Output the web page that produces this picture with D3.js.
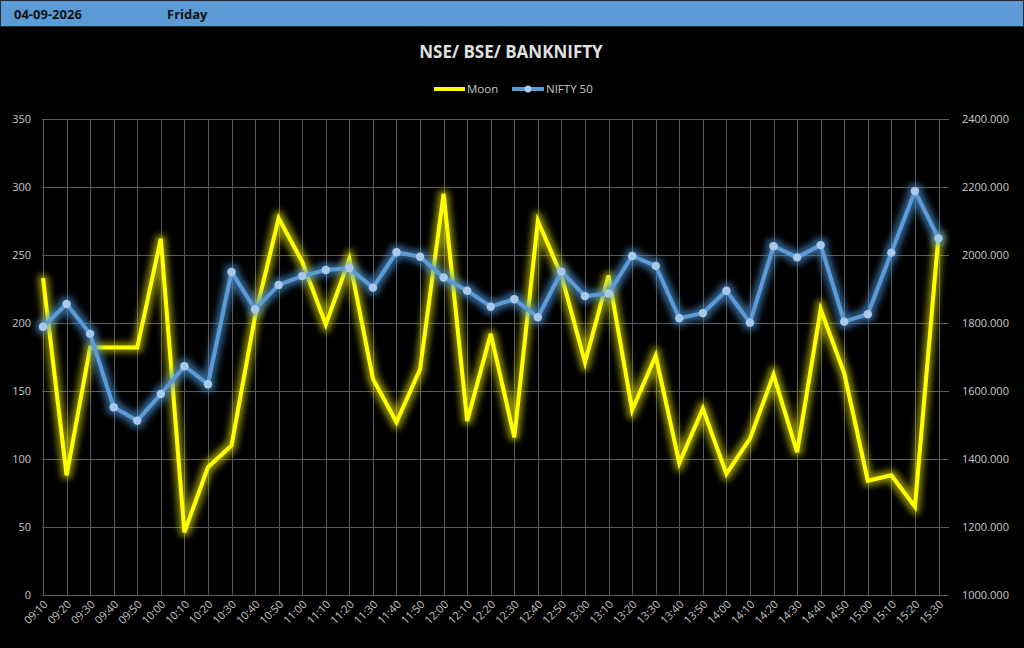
<!DOCTYPE html>
<html>
<head>
<meta charset="utf-8">
<script src="https://cdn.jsdelivr.net/npm/d3@7"></script>
<style>
  body { margin: 0; background: #000; }
  svg { display: block; }
</style>
</head>
<body>
<div id="chart"></div>
<script>
// DATA

const times = ["09:10","09:20","09:30","09:40","09:50","10:00","10:10","10:20","10:30","10:40",
  "10:50","11:00","11:10","11:20","11:30","11:40","11:50","12:00","12:10","12:20",
  "12:30","12:40","12:50","13:00","13:10","13:20","13:30","13:40","13:50","14:00",
  "14:10","14:20","14:30","14:40","14:50","15:00","15:10","15:20","15:30"]

const moon = [233, 88, 182, 182, 182, 262, 46, 94, 110, 205,
  277, 245, 199, 247, 159, 127, 166, 295, 128, 192,
  116, 275, 235, 171, 235, 136, 176, 97, 137, 89,
  115, 162, 105, 210, 163, 84, 88, 65, 264]

const nifty = [1789, 1856, 1768, 1552, 1513, 1591, 1673, 1620, 1950, 1840,
  1912, 1938, 1956, 1961, 1904, 2008, 1995, 1934, 1895, 1848,
  1870, 1817, 1951, 1879, 1887, 1997, 1968, 1814, 1829, 1895,
  1801, 2026, 1993, 2029, 1804, 1826, 2007, 2188, 2049]

const leftTicks = [0, 50, 100, 150, 200, 250, 300, 350]
const rightTicks = [1000, 1200, 1400, 1600, 1800, 2000, 2200, 2400]

const dateLabel = "04-09-2026"
const dayLabel = "Friday"
const title = "NSE/ BSE/ BANKNIFTY"

// CONSTANTS

const width = 1024
const height = 648
const plot = { left: 42, right: 949, top: 119, bottom: 595 }
const font = "'Open Sans', 'Noto Sans', sans-serif"
const yellow = "#FFFF00"
const blue = "#5B9BD5"
const gridColor = "#5a5a5a"
const textColor = "#c8c8c8"

const svg = d3.select("#chart").append("svg").attr("width", width).attr("height", height)
  .style("font-family", font)

// glow filters
const defs = svg.append("defs")
function glow(id, color, dev, op) {
  const f = defs.append("filter").attr("id", id)
    .attr("x", "-20%").attr("y", "-20%").attr("width", "140%").attr("height", "140%")
  f.append("feMorphology").attr("in", "SourceAlpha").attr("operator", "dilate").attr("radius", 2.5).attr("result", "d")
  f.append("feGaussianBlur").attr("in", "d").attr("stdDeviation", dev).attr("result", "b")
  f.append("feFlood").attr("flood-color", color).attr("flood-opacity", op)
  f.append("feComposite").attr("in2", "b").attr("operator", "in").attr("result", "g")
  const m = f.append("feMerge")
  m.append("feMergeNode").attr("in", "g")
  m.append("feMergeNode").attr("in", "SourceGraphic")
}
glow("glowY", "#e0e000", 3.2, 0.6)
glow("glowB", "#4a90d0", 3.2, 0.65)

svg.append("rect").attr("width", width).attr("height", height).attr("fill", "#000")

// HEADER

svg.append("rect").attr("x", 0.5).attr("y", 0.5).attr("width", width - 1).attr("height", 26)
  .attr("fill", blue).attr("stroke", "#2b2b2b")
svg.append("text").attr("x", 14).attr("y", 19).text(dateLabel)
  .attr("font-size", 13).attr("font-weight", "bold").attr("fill", "#111")
svg.append("text").attr("x", 167).attr("y", 19).text(dayLabel)
  .attr("font-size", 13).attr("font-weight", "bold").attr("fill", "#111")

svg.append("text").attr("x", 511).attr("y", 58).attr("text-anchor", "middle").text(title)
  .attr("font-size", 17).attr("font-weight", "bold").attr("fill", "#e0e0e0")

// SCALES

const x = d3.scalePoint().domain(times).range([43, 938.5])
const yL = d3.scaleLinear().domain([0, 350]).range([plot.bottom, plot.top])
const yR = d3.scaleLinear().domain([1000, 2400]).range([plot.bottom, plot.top])

// GRID

const grid = svg.append("g")
grid.selectAll(".hg").data(leftTicks).join("line")
  .attr("x1", plot.left).attr("x2", plot.right)
  .attr("y1", d => Math.round(yL(d)) + 0.5).attr("y2", d => Math.round(yL(d)) + 0.5)
  .attr("stroke", gridColor)
grid.selectAll(".vg").data(times).join("line")
  .attr("x1", d => Math.round(x(d)) + 0.5).attr("x2", d => Math.round(x(d)) + 0.5)
  .attr("y1", plot.top).attr("y2", plot.bottom)
  .attr("stroke", gridColor)

// AXES

const leftAxis = svg.append("g").attr("transform", `translate(${plot.left}, 0)`)
  .call(d3.axisLeft(yL).tickValues(leftTicks).tickSize(0).tickPadding(11))
const rightAxis = svg.append("g").attr("transform", `translate(${plot.right}, 0)`)
  .call(d3.axisRight(yR).tickValues(rightTicks).tickFormat(d3.format(".3f")).tickSize(0).tickPadding(13))
const bottomAxis = svg.append("g").attr("transform", `translate(0, ${plot.bottom})`)
  .call(d3.axisBottom(x).tickSize(0))

;[leftAxis, rightAxis, bottomAxis].forEach(a => {
  a.select(".domain").remove()
  a.selectAll("text").attr("fill", textColor).attr("font-size", 11).attr("font-family", font)
})

bottomAxis.selectAll("text")
  .attr("text-anchor", "end")
  .attr("dy", null).attr("y", 0)
  .attr("transform", "translate(5, 10) rotate(-45)")

// LINES

const lineL = d3.line().x((d, i) => x(times[i])).y(d => yL(d))
const lineR = d3.line().x((d, i) => x(times[i])).y(d => yR(d))

svg.append("path").datum(moon).attr("d", lineL)
  .attr("fill", "none").attr("stroke", yellow).attr("stroke-width", 4)
  .attr("stroke-linejoin", "miter").attr("filter", "url(#glowY)")

const niftyG = svg.append("g").attr("filter", "url(#glowB)")
niftyG.append("path").datum(nifty).attr("d", lineR)
  .attr("fill", "none").attr("stroke", blue).attr("stroke-width", 4)
  .attr("stroke-linejoin", "round")
niftyG.selectAll("circle").data(nifty).join("circle")
  .attr("cx", (d, i) => x(times[i])).attr("cy", d => yR(d)).attr("r", 4.2)
  .attr("fill", "#a9c9ea")

// LEGEND

const legend = svg.append("g").attr("transform", "translate(0, 89)")
legend.append("line").attr("x1", 434).attr("x2", 465).attr("y1", 0).attr("y2", 0)
  .attr("stroke", yellow).attr("stroke-width", 4)
legend.append("text").attr("x", 467).attr("y", 4).text("Moon")
  .attr("font-size", 11.5).attr("fill", textColor)
legend.append("line").attr("x1", 512).attr("x2", 544).attr("y1", 0).attr("y2", 0)
  .attr("stroke", blue).attr("stroke-width", 4)
legend.append("circle").attr("cx", 528).attr("cy", 0).attr("r", 3.5).attr("fill", "#a9c9ea")
legend.append("text").attr("x", 546).attr("y", 4).text("NIFTY 50")
  .attr("font-size", 11.5).attr("fill", textColor)
</script>
</body>
</html>
